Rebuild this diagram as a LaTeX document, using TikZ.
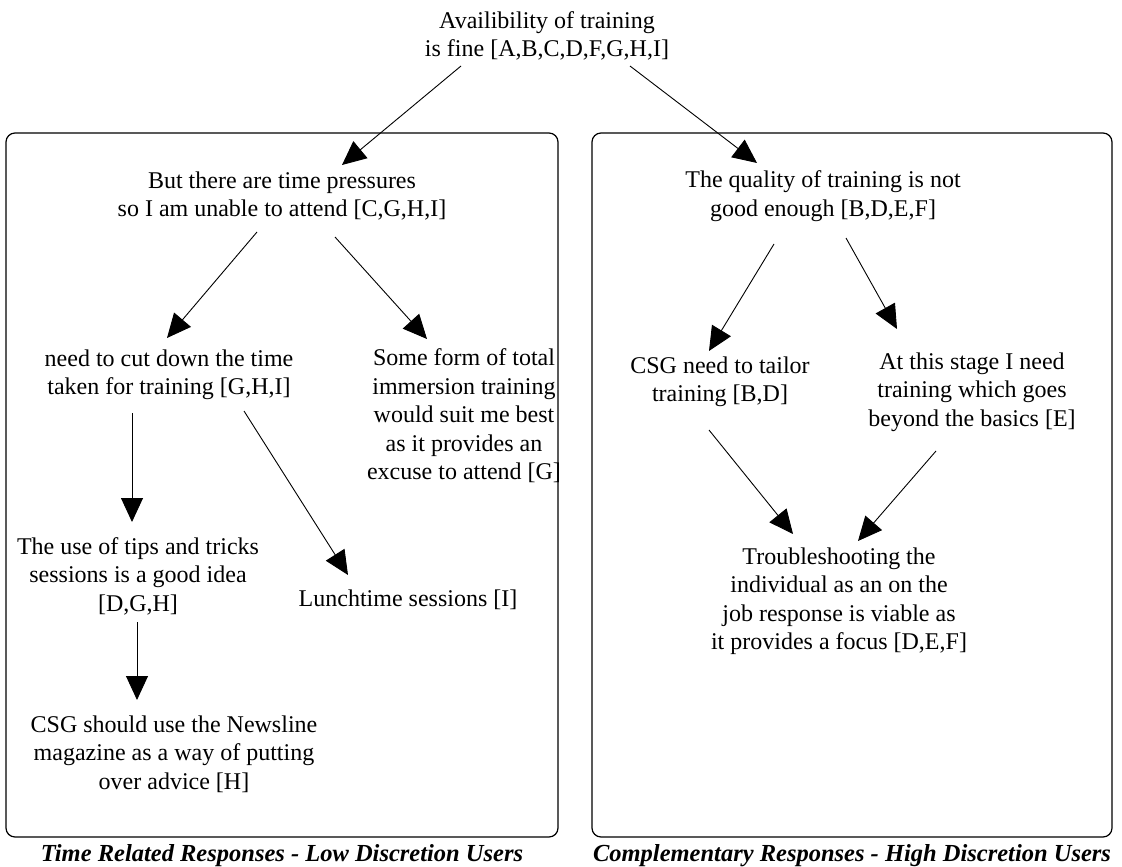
\documentclass[tikz,border=0pt]{standalone}
\usepackage{fontspec}
\setmainfont{Liberation Serif}
\usetikzlibrary{arrows.meta}
\begin{document}
\begin{tikzpicture}[x=1pt,y=-1pt,
  txt/.style={align=center,inner sep=0pt,font=\fontsize{24}{28.5}\selectfont},
  grp/.style={draw,line width=1.2pt,rounded corners=9pt,inner sep=0pt},
  captiontext/.style={inner sep=0pt,anchor=base,font=\fontsize{24.5}{29}\selectfont\bfseries\itshape},
  arr/.style={line width=0.9pt,-{Triangle[length=24pt,width=22pt]}}]
\useasboundingbox (0,0) rectangle (1122,867);

% group frames and their captions
\node[grp,minimum width=552pt,minimum height=704pt] (leftgrp) at (282,485) {};
\node[grp,minimum width=520pt,minimum height=704pt] (rightgrp) at (852,485) {};
\node[captiontext] (leftcap) at (282,861) {Time Related Responses - Low Discretion Users};
\node[captiontext] (rightcap) at (852,861) {Complementary Responses - High Discretion Users};

% statements
\node[txt] (top) at (547,36) {Availibility of training\\is fine [A,B,C,D,F,G,H,I]};
\node[txt] (press) at (282,196) {But there are time pressures\\so I am unable to attend [C,G,H,I]};
\node[txt] (qual) at (823,196) {The quality of training is not\\good enough [B,D,E,F]};
\node[txt] (cut) at (169,375) {need to cut down the time\\taken for training [G,H,I]};
\node[txt] (immer) at (464,416) {Some form of total\\immersion training\\would suit me best\\as it provides an\\excuse to attend [G]};
\node[txt] (tailor) at (720,382) {CSG need to tailor\\training [B,D]};
\node[txt] (beyond) at (972,392) {At this stage I need\\training which goes\\beyond the basics [E]};
\node[txt] (tips) at (138,576) {The use of tips and tricks\\sessions is a good idea\\{[D,G,H]}};
\node[txt] (lunch) at (408,600) {Lunchtime sessions [I]};
\node[txt] (news) at (174,754) {CSG should use the Newsline\\magazine as a way of putting\\over advice [H]};
\node[txt] (trouble) at (839,601) {Troubleshooting the\\individual as an on the\\job response is viable as\\it provides a focus [D,E,F]};

% connectors
\draw[arr] ([shift={(-86,30)}]top.center) -- ([shift={(60,-31)}]press.center);
\draw[arr] ([shift={(83,30)}]top.center) -- ([shift={(-66,-33)}]qual.center);
\draw[arr] ([shift={(-25,36)}]press.center) -- ([shift={(-2,-37)}]cut.center);
\draw[arr] ([shift={(53,41)}]press.center) -- ([shift={(-37,-77)}]immer.center);
\draw[arr] ([shift={(-37,38)}]cut.center) -- ([shift={(-6,-54)}]tips.center);
\draw[arr] ([shift={(75,36)}]cut.center) -- ([shift={(-60,-25)}]lunch.center);
\draw[arr] ([shift={(-1,46)}]tips.center) -- ([shift={(-37,-54)}]news.center);
\draw[arr] ([shift={(-49,48)}]qual.center) -- ([shift={(-11,-31)}]tailor.center);
\draw[arr] ([shift={(23,42)}]qual.center) -- ([shift={(-75,-63)}]beyond.center);
\draw[arr] ([shift={(-11,48)}]tailor.center) -- ([shift={(-46,-67)}]trouble.center);
\draw[arr] ([shift={(-36,59)}]beyond.center) -- ([shift={(19,-60)}]trouble.center);
\end{tikzpicture}
\end{document}
